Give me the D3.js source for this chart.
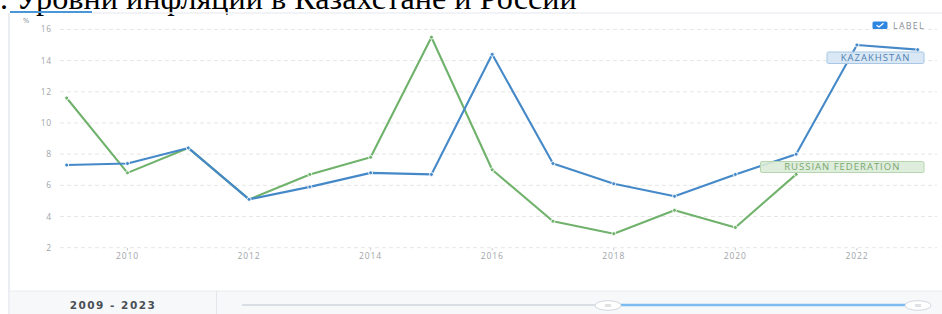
<!DOCTYPE html>
<html>
<head>
<meta charset="utf-8">
<script src="https://cdn.jsdelivr.net/npm/d3@7"></script>
<style>
  body { margin: 0; background: #fff; }
  svg { display: block; }
</style>
</head>
<body>
<svg id="chart" width="942" height="314"></svg>
<script>
// data
const years = [2009, 2010, 2011, 2012, 2013, 2014, 2015, 2016, 2017, 2018, 2019, 2020, 2021, 2022, 2023];
const kazakhstan = [7.3, 7.4, 8.4, 5.1, 5.9, 6.8, 6.7, 14.4, 7.4, 6.1, 5.3, 6.7, 8.0, 15.0, 14.7];
const russia = [11.6, 6.8, 8.4, 5.1, 6.7, 7.8, 15.5, 7.0, 3.7, 2.9, 4.4, 3.3, 6.7];
const yTicks = [2, 4, 6, 8, 10, 12, 14, 16];
const xTicks = [2010, 2012, 2014, 2016, 2018, 2020, 2022];
const titleText = ". Уровни инфляции в Казахстане и России";

const svg = d3.select("#chart");
const blue = "#4589c8";
const green = "#70b26c";

const x = d3.scaleLinear().domain([2009, 2023]).range([66.7, 917.7]);
const y = d3.scaleLinear().domain([2, 16]).range([247.7, 29.4]);

// title, cut at the top of the picture
const title = svg.append("text")
    .attr("x", 0)
    .attr("y", 8.5)
    .attr("font-family", "Liberation Serif, Times New Roman, serif")
    .attr("font-size", 24)
    .attr("fill", "#000")
    .text(titleText);
const tw = title.node().getComputedTextLength();
title.attr("font-size", 24 * 577 / tw);

// frame
svg.append("line").attr("x1", 92).attr("x2", 942).attr("y1", 13).attr("y2", 13)
    .attr("stroke", "#eceff3").attr("stroke-width", 1.5);
svg.append("line").attr("x1", 10).attr("x2", 92).attr("y1", 12).attr("y2", 12)
    .attr("stroke", "#4a97d8").attr("stroke-width", 2);
svg.append("line").attr("x1", 9).attr("x2", 9).attr("y1", 13).attr("y2", 314)
    .attr("stroke", "#e3e8ee").attr("stroke-width", 1.5);

// bottom panel
svg.append("rect").attr("x", 9.75).attr("y", 291).attr("width", 933).attr("height", 23)
    .attr("fill", "#f6f8fa");
svg.append("line").attr("x1", 10).attr("x2", 942).attr("y1", 291).attr("y2", 291)
    .attr("stroke", "#e8ecf0");
svg.append("line").attr("x1", 216.5).attr("x2", 216.5).attr("y1", 291).attr("y2", 314)
    .attr("stroke", "#e3e7ec");
svg.append("text")
    .attr("x", 113).attr("y", 308.5)
    .attr("text-anchor", "middle")
    .attr("font-family", "DejaVu Sans, sans-serif")
    .attr("font-size", 10.5)
    .attr("font-weight", "bold")
    .attr("letter-spacing", 1.5)
    .attr("fill", "#4a4f55")
    .text(years[0] + " - " + years[years.length - 1]);

// slider
const sx = d3.scaleLinear().domain([2009, 2023]).range([242, 918]);
svg.append("line").attr("x1", sx(2009)).attr("x2", 608).attr("y1", 305).attr("y2", 305)
    .attr("stroke", "#d9dee4").attr("stroke-width", 2);
svg.append("line").attr("x1", 608).attr("x2", sx(2023)).attr("y1", 305).attr("y2", 305)
    .attr("stroke", "#7dbcf0").attr("stroke-width", 2.5);
[608, 918].forEach(cx => {
    const g = svg.append("g").attr("transform", `translate(${cx},305.5)`);
    g.append("ellipse").attr("rx", 13).attr("ry", 4.8)
        .attr("fill", "#fff").attr("stroke", "#d3d8de");
    [-2, 0, 2].forEach(dx => {
        g.append("line").attr("x1", dx).attr("x2", dx).attr("y1", -1.5).attr("y2", 1.5)
            .attr("stroke", "#b0b6bd").attr("stroke-width", 0.8);
    });
});

// gridlines
svg.append("g").selectAll("line").data(yTicks).join("line")
    .attr("x1", 60).attr("x2", 937)
    .attr("y1", d => y(d)).attr("y2", d => y(d))
    .attr("stroke", "#e6e6e6")
    .attr("stroke-dasharray", "4,3");

// y labels
svg.append("g").selectAll("text").data(yTicks).join("text")
    .attr("x", 52).attr("y", d => y(d) + 3)
    .attr("text-anchor", "end")
    .attr("font-family", "Open Sans, sans-serif")
    .attr("font-size", 8.5)
    .attr("letter-spacing", 0.8)
    .attr("fill", "#a0a4a8")
    .text(d => d);
svg.append("text").attr("x", 23).attr("y", 22.5)
    .attr("font-family", "Open Sans, sans-serif")
    .attr("font-size", 7.5)
    .attr("fill", "#8a9098")
    .text("%");

// x labels
const xg = svg.append("g");
xg.selectAll("line").data(xTicks).join("line")
    .attr("x1", d => x(d)).attr("x2", d => x(d))
    .attr("y1", 248).attr("y2", 250.5)
    .attr("stroke", "#c8cbcf");
xg.selectAll("text").data(xTicks).join("text")
    .attr("x", d => x(d)).attr("y", 259)
    .attr("text-anchor", "middle")
    .attr("font-family", "Open Sans, sans-serif")
    .attr("font-size", 8.5)
    .attr("letter-spacing", 0.9)
    .attr("fill", "#a0a4a8")
    .text(d => d);

// lines
const line = d3.line().x(d => x(d[0])).y(d => y(d[1]));
const series = [
    { name: "RUSSIAN FEDERATION", color: green, values: russia },
    { name: "KAZAKHSTAN", color: blue, values: kazakhstan }
];
series.forEach(s => {
    const pts = s.values.map((v, i) => [years[i], v]);
    svg.append("path")
        .attr("d", line(pts))
        .attr("fill", "none")
        .attr("stroke", s.color)
        .attr("stroke-width", 2.1)
        .attr("stroke-linejoin", "round");
    svg.append("g").selectAll("circle").data(pts).join("circle")
        .attr("cx", d => x(d[0])).attr("cy", d => y(d[1]))
        .attr("r", 2)
        .attr("fill", s.color)
        .attr("stroke", "#fff")
        .attr("stroke-width", 0.9);
});

// series labels
const labels = [
    { text: "KAZAKHSTAN", x0: 827, x1: 924, y0: 52, y1: 63.5, fill: "#d5e5f3", stroke: "#a8c7e4", color: "#4f80b3" },
    { text: "RUSSIAN FEDERATION", x0: 760.5, x1: 924, y0: 161.5, y1: 172.5, fill: "#dcebd8", stroke: "#b6d6af", color: "#7aa86f" }
];
labels.forEach(l => {
    svg.append("rect")
        .attr("x", l.x0).attr("y", l.y0)
        .attr("width", l.x1 - l.x0).attr("height", l.y1 - l.y0)
        .attr("rx", 1.5)
        .attr("fill", l.fill).attr("fill-opacity", 0.9)
        .attr("stroke", l.stroke);
    svg.append("text")
        .attr("x", (l.x0 + l.x1) / 2).attr("y", (l.y0 + l.y1) / 2 + 3.3)
        .attr("text-anchor", "middle")
        .attr("font-family", "Open Sans, sans-serif")
        .attr("font-size", 9.5)
        .attr("letter-spacing", 1)
        .attr("fill", l.color)
        .text(l.text);
});

// legend checkbox
svg.append("rect").attr("x", 872.5).attr("y", 21.5).attr("width", 15).attr("height", 7.5)
    .attr("rx", 1.5).attr("fill", "#2f86e0");
svg.append("path").attr("d", "M876.5,25.2 L879,27 L883.5,23.3")
    .attr("fill", "none").attr("stroke", "#fff").attr("stroke-width", 1.3);
svg.append("text").attr("x", 893).attr("y", 28.5)
    .attr("font-family", "Open Sans, sans-serif")
    .attr("font-size", 9)
    .attr("letter-spacing", 1.2)
    .attr("fill", "#8a9096")
    .text("LABEL");
</script>
</body>
</html>
